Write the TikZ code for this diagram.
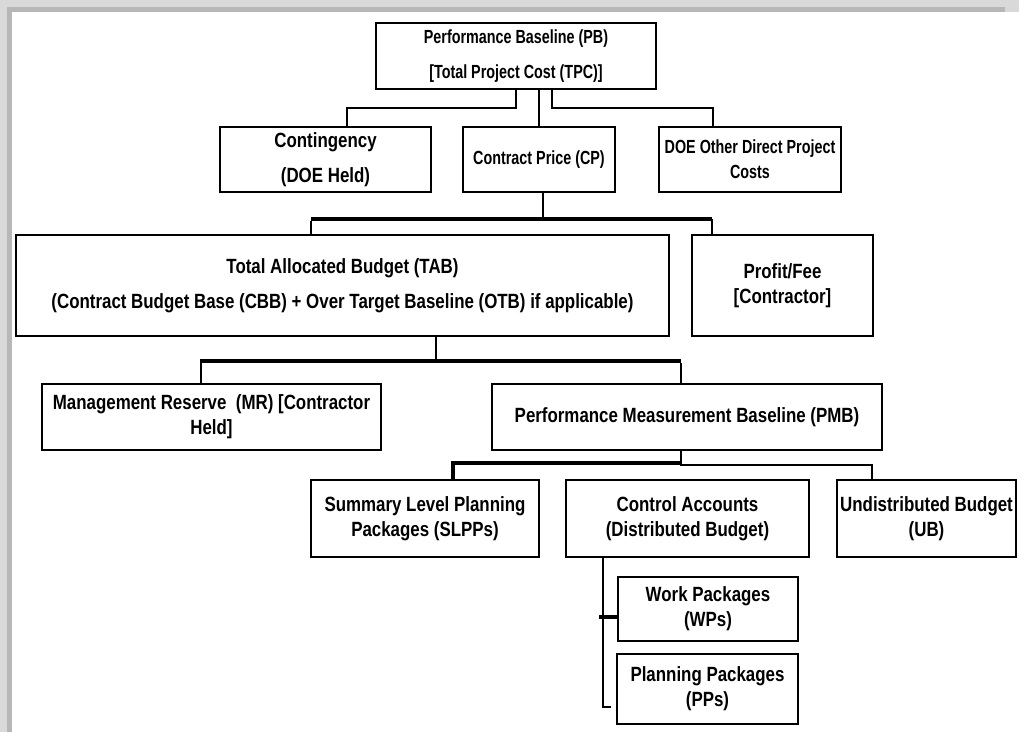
\documentclass[tikz,border=0pt]{standalone}
\usepackage{fontspec}
\setmainfont{Liberation Sans}[FakeStretch=0.82]
\newfontfamily\narrowfont{Liberation Sans}[FakeStretch=0.755]
\usepackage{tikz}
\definecolor{shadeLight}{RGB}{217,217,217}
\definecolor{shadeDark}{RGB}{183,183,183}

\begin{document}
\begin{tikzpicture}[x=1pt, y=-1pt]%
  \tikzset{box/.style={draw, line width=2pt, rectangle, align=center, inner sep=0.5pt, font=\bfseries\fontsize{20.6}{25}\selectfont}}
  \tikzset{widebox/.style={box, font=\bfseries\fontsize{20.6}{35}\selectfont}}
  \tikzset{smallbox/.style={box, font=\narrowfont\bfseries\fontsize{19}{25}\selectfont}}
  \tikzset{link/.style={draw, line width=1.8pt}, bar/.style={draw, line width=3.4pt}}

  \useasboundingbox (0,0) rectangle (1019,732);
  % frame shadow
  \fill[shadeLight] (0,0) rectangle (1019,12);
  \fill[shadeLight] (0,0) rectangle (12,732);
  \fill[shadeDark] (7,7) rectangle (1005,12);
  \fill[shadeDark] (7,7) rectangle (12,732);

  \node[smallbox, font=\narrowfont\bfseries\fontsize{19}{35}\selectfont, minimum width=280, minimum height=66] at (516,56) (PB) {Performance Baseline (PB)\\{}[Total Project Cost (TPC)]};
  \node[widebox, minimum width=211, minimum height=65] at (325.5,159.5) (cont) {Contingency\\(DOE Held)};
  \node[smallbox, minimum width=152, minimum height=65] at (539,159.5) (CP) {Contract Price (CP)};
  \node[smallbox, minimum width=182, minimum height=65] at (750,159.5) (DOE) {DOE Other Direct Project\\Costs};

  \node[widebox, minimum width=653, minimum height=101] at (342.5,285.5) (TAB) {Total Allocated Budget (TAB)\\(Contract Budget Base (CBB) + Over Target Baseline (OTB) if applicable)};
  \node[box, minimum width=181, minimum height=101] at (782.5,285.5) (fee) {Profit/Fee\\{}[Contractor]};

  \node[box, minimum width=339, minimum height=66] at (211.5,417) (MR) {Management Reserve\ \ (MR) [Contractor\\Held]};
  \node[box, minimum width=390, minimum height=66] at (687,417) (PMB) {Performance Measurement Baseline (PMB)};

  \node[box, minimum width=228, minimum height=77] at (425,518.5) (SLPP) {Summary Level Planning\\Packages (SLPPs)};
  \node[box, minimum width=243, minimum height=77] at (687.5,518.5) (CA) {Control Accounts\\(Distributed Budget)};
  \node[box, minimum width=179, minimum height=77] at (926.5,518.5) (UB) {Undistributed Budget\\(UB)};

  \node[box, minimum width=180, minimum height=64] at (708,609) (WP) {Work Packages\\(WPs)};
  \node[box, minimum width=181, minimum height=70] at (707.5,689) (PP) {Planning Packages\\(PPs)};

  % PB level
  \path[link] (PB.south) -- ++(0,18) -| ([xshift=21.5]cont.north);
  \path[link] (CP.north |- PB.south) -- (CP.north);
  \path[link] ([xshift=36]PB.south) -- ++(0,18) -| ([xshift=-37]DOE.north);

  % CP level
  \path[link] ([xshift=4]CP.south) -- ++(0,28);
  \path[bar] ([xshift=-31.5,yshift=15]TAB.north) -- ([xshift=-70.5,yshift=15]fee.north);
  \path[link] ([xshift=-31.5]TAB.north) -- ++(0,-13);
  \path[link] ([xshift=-70.5]fee.north) -- ++(0,-15);

  % TAB level
  \path[link] ([xshift=93.5]TAB.south) -- ++(0,26);
  \path[bar] ([xshift=-11.5,yshift=22]MR.north) -- ([xshift=-6,yshift=22]PMB.north);
  \path[link] ([xshift=-10.5]MR.north) -- ++(0,-20);
  \path[link] ([xshift=-6]PMB.north) -- ++(0,-20);

  % PMB level
  \path[link] ([xshift=-6]PMB.south) -- ++(0,14) -| ([xshift=-54.5]UB.north);
  \path[bar] ([xshift=-6,yshift=-12]PMB.south) -| ([xshift=28]SLPP.north);

  % control account level
  \path[link] ([xshift=-84.5]CA.south) |- ([xshift=-5,yshift=-18]PP.west);
  \path[bar] ([xshift=-18,yshift=-8]WP.west) -- ([yshift=-8]WP.west);
\end{tikzpicture}
\end{document}
